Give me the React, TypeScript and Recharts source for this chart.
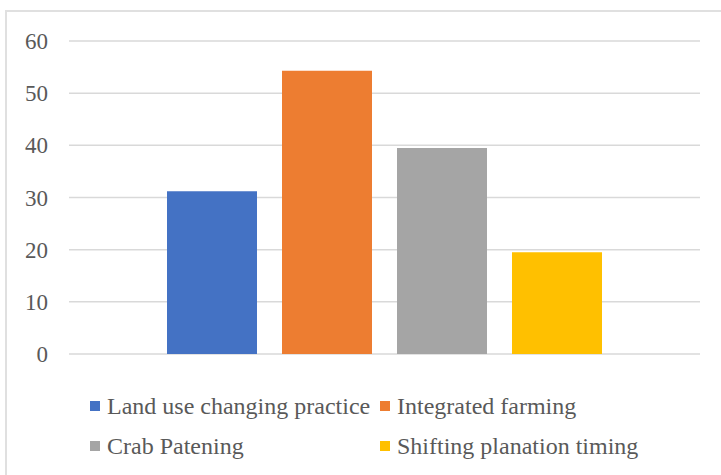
import React from 'react'
import { BarChart, Bar, XAxis, YAxis, CartesianGrid } from 'recharts'

// series shown as separate bars in one category
const seriesNames = [
  'Land use changing practice',
  'Integrated farming',
  'Crab Patening',
  'Shifting planation timing',
]
const seriesKeys = ['landUse', 'integrated', 'crab', 'shifting']
const seriesValues = [31.2, 54.3, 39.5, 19.5]
const seriesColors = ['#4472c4', '#ed7d31', '#a5a5a5', '#ffc000']
const yTicks = [0, 10, 20, 30, 40, 50, 60]

const row: Record<string, string | number> = { category: '' }
seriesKeys.forEach((k, i) => {
  row[k] = seriesValues[i]
})
const chartData = [row]

const font = 'Liberation Serif'

export default function App() {
  return (
    <div
      style={{
        position: 'fixed',
        left: 0,
        top: 0,
        width: 721,
        height: 475,
        overflow: 'hidden',
        background: '#fff',
      }}
    >
      {/* chart area border, runs off the right/bottom edge */}
      <div
        style={{
          position: 'absolute',
          left: 5,
          top: 10,
          width: 800,
          height: 600,
          border: '2px solid #e0e0e0',
        }}
      />
      <div style={{ position: 'absolute', left: 0, top: 0 }}>
        <BarChart
          width={721}
          height={475}
          data={chartData}
          margin={{ top: 41, right: 21, bottom: 121, left: 0 }}
          barCategoryGap={98}
          barGap={25}
        >
          <CartesianGrid vertical={false} stroke="#d9d9d9" strokeWidth={1.5} />
          <XAxis dataKey="category" hide />
          <YAxis
            width={69}
            domain={[0, 60]}
            ticks={yTicks}
            axisLine={false}
            tickLine={false}
            tickSize={0}
            tickMargin={21}
            tick={{ fill: '#595959', fontFamily: font, fontSize: 23 }}
          />
          {seriesKeys.map((k, i) => (
            <Bar
              key={k}
              dataKey={k}
              name={seriesNames[i]}
              fill={seriesColors[i]}
              isAnimationActive={false}
            />
          ))}
        </BarChart>
      </div>

      {/* legend */}
      <div
        style={{
          position: 'absolute',
          left: 90,
          top: 392,
          display: 'grid',
          gridTemplateColumns: '290px auto',
          rowGap: 12,
          fontFamily: font,
          fontSize: 24,
          lineHeight: '28px',
          color: '#595959',
        }}
      >
        {seriesNames.map((name, i) => (
          <div key={name} style={{ display: 'flex', alignItems: 'center', whiteSpace: 'nowrap' }}>
            <span
              style={{
                display: 'inline-block',
                width: 10,
                height: 10,
                background: seriesColors[i],
                marginRight: 7,
              }}
            />
            {name}
          </div>
        ))}
      </div>
    </div>
  )
}
